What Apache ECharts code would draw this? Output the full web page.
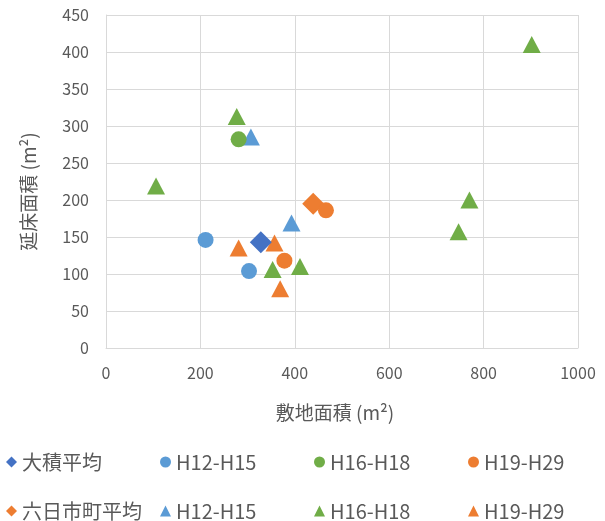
<!DOCTYPE html>
<html>
<head>
<meta charset="utf-8">
<script src="https://cdn.jsdelivr.net/npm/echarts@6/dist/echarts.min.js"></script>
<style>
html,body{margin:0;padding:0;background:#fff;}
#c{width:605px;height:521px;}
</style>
</head>
<body>
<div id="c"></div>
<script>
// Data (x: 敷地面積, y: 延床面積)
var seriesNames = ['大積平均', 'H12-H15', 'H16-H18', 'H19-H29', '六日市町平均', 'H12-H15 ', 'H16-H18 ', 'H19-H29 '];
var ozumiAvg = [[328, 143]];
var ozumiH12H15 = [[211, 146], [303, 104]];
var ozumiH16H18 = [[281, 282]];
var ozumiH19H29 = [[466, 186], [378, 118]];
var muikaAvg = [[439, 195]];
var muikaH12H15 = [[307, 285], [393, 169]];
var muikaH16H18 = [[902, 410], [277, 313], [106, 219], [353, 106], [411, 110], [770, 200], [747, 157]];
var muikaH19H29 = [[281, 135], [357, 142], [369, 80]];
var xTicks = [0, 200, 400, 600, 800, 1000];
var yTicks = [0, 50, 100, 150, 200, 250, 300, 350, 400, 450];

var allData = [ozumiAvg, ozumiH12H15, ozumiH16H18, ozumiH19H29, muikaAvg, muikaH12H15, muikaH16H18, muikaH19H29];
var colors = ['#4472C4', '#5B9BD5', '#70AD47', '#ED7D31', '#ED7D31', '#5B9BD5', '#70AD47', '#ED7D31'];
var symbols = ['diamond', 'circle', 'circle', 'circle', 'diamond', 'triangle', 'triangle', 'triangle'];
var sizes = [22, 16, 16, 16, 22, [18, 17], [18, 17], [18, 17]];

var font = "'Noto Sans CJK JP', 'Noto Sans', sans-serif";
var colLeft = [6, 160, 314, 468];
var rowTop = [452, 501];

var legends = seriesNames.map(function (n, i) {
  return {
    data: [n],
    left: colLeft[i % 4],
    top: rowTop[Math.floor(i / 4)],
    orient: 'horizontal',
    itemWidth: 11,
    itemHeight: 11,
    padding: 0,
    formatter: function (s) { return s.trim(); },
    textStyle: { color: '#595959', fontSize: 20, fontFamily: font }
  };
});

var series = seriesNames.map(function (n, i) {
  return {
    name: n,
    type: 'scatter',
    data: allData[i],
    symbol: symbols[i],
    symbolSize: sizes[i],
    itemStyle: { color: colors[i], opacity: 1 },
    z: i < 4 ? 3 : 2
  };
});

var chart = echarts.init(document.getElementById('c'), null, { renderer: 'canvas' });
chart.setOption({
  animation: false,
  backgroundColor: '#ffffff',
  textStyle: { fontFamily: font },
  grid: { left: 106, right: 27, top: 15, bottom: 173, containLabel: false },
  legend: legends,
  xAxis: {
    type: 'value',
    min: xTicks[0],
    max: xTicks[xTicks.length - 1],
    interval: xTicks[1] - xTicks[0],
    name: '敷地面積 (m²)',
    nameLocation: 'middle',
    nameGap: 55,
    nameTextStyle: { color: '#595959', fontSize: 19, fontFamily: font, padding: [0, 14, 0, 0] },
    axisLine: { show: true, lineStyle: { color: '#D9D9D9', width: 1 } },
    axisTick: { show: false },
    axisLabel: { color: '#595959', fontSize: 16, margin: 17, fontFamily: font, formatter: function (v) { return String(v); } },
    splitLine: { show: true, lineStyle: { color: '#D9D9D9', width: 1 } }
  },
  yAxis: {
    type: 'value',
    min: yTicks[0],
    max: yTicks[yTicks.length - 1],
    interval: yTicks[1] - yTicks[0],
    name: '延床面積 (m²)',
    nameLocation: 'middle',
    nameGap: 68,
    nameTextStyle: { color: '#595959', fontSize: 19, fontFamily: font, padding: [0, 20, 0, 0] },
    axisLine: { show: true, lineStyle: { color: '#D9D9D9', width: 1 } },
    axisTick: { show: false },
    axisLabel: { color: '#595959', fontSize: 16, margin: 17, fontFamily: font, formatter: function (v) { return String(v); } },
    splitLine: { show: true, lineStyle: { color: '#D9D9D9', width: 1 } }
  },
  series: series
});
</script>
</body>
</html>
